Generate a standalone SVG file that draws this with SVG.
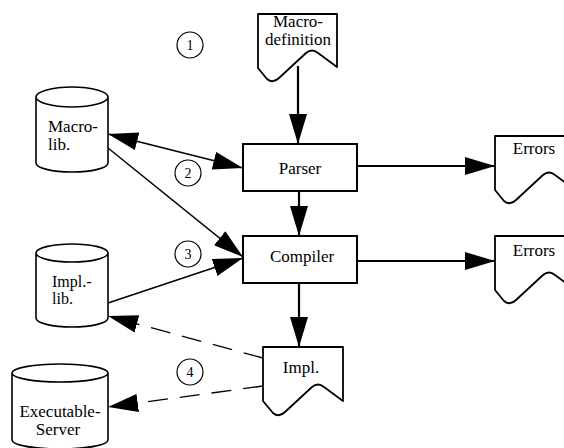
<svg xmlns="http://www.w3.org/2000/svg" width="564" height="448" viewBox="0 0 564 448" font-family="'Liberation Serif', 'DejaVu Serif', serif">
<style>
text{font-family:"Liberation Serif","DejaVu Serif",serif;font-size:17px;fill:#000}
.c{text-anchor:middle}
.sm{font-size:16px}
.num{font-size:14px;text-anchor:middle}
.box{fill:#fff;stroke:#000;stroke-width:2}
.doc{fill:#fff;stroke:#000;stroke-width:1.8;stroke-linejoin:round}
.cyl{fill:#fff;stroke:#000;stroke-width:1.6}
.circ{fill:none;stroke:#000;stroke-width:1.2}
.thick{stroke:#000;stroke-width:2.2;fill:none}
.thin{stroke:#000;stroke-width:1.5;fill:none}
.dash{stroke:#000;stroke-width:1.3;fill:none;stroke-dasharray:20 12}
</style>
<defs>
<marker id="ah" markerUnits="userSpaceOnUse" markerWidth="32" markerHeight="20" refX="30" refY="9" orient="auto-start-reverse">
<path d="M0,0 L30,9 L0,18 Z" fill="#000"/>
</marker>
</defs>

<g id="connectors">
<line class="thick" x1="298" y1="66" x2="298" y2="144" marker-end="url(#ah)"/>
<line class="thick" x1="299" y1="191" x2="299" y2="236" marker-end="url(#ah)"/>
<line class="thick" x1="357" y1="166" x2="495" y2="166" marker-end="url(#ah)"/>
<line class="thick" x1="357" y1="261" x2="495" y2="261" marker-end="url(#ah)"/>
<line class="thick" x1="299" y1="283" x2="299" y2="347" marker-end="url(#ah)"/>
<line class="thin" x1="108" y1="134" x2="243" y2="168" marker-start="url(#ah)" marker-end="url(#ah)"/>
<line class="thin" x1="108" y1="148" x2="243" y2="257" marker-end="url(#ah)"/>
<line class="thin" x1="108" y1="303" x2="243" y2="258" marker-end="url(#ah)"/>
<line class="dash" x1="263" y1="358" x2="108" y2="316" marker-end="url(#ah)"/>
<line class="dash" x1="263" y1="386" x2="108" y2="407" marker-end="url(#ah)"/>
</g>

<g id="macro-definition">
<path class="doc" d="M258,68 V14 H337 V67 L318,53 Q312,48 306,53 L279,78 Q273,84 267,79 Z"/>
<text class="c" x="298" y="27">Macro-</text>
<text class="c" x="298" y="45">definition</text>
</g>

<g id="parser">
<rect class="box" x="243" y="144" width="114" height="47"/>
<text class="c" x="300" y="174">Parser</text>
</g>

<g id="compiler">
<rect class="box" x="243" y="236" width="114" height="47"/>
<text class="c" x="302" y="262">Compiler</text>
</g>

<g id="errors1">
<path class="doc" d="M495,190 V136 H574 V189 L555,175 Q549,170 543,175 L516,200 Q510,206 504,201 Z"/>
<text class="c" x="534" y="154">Errors</text>
</g>

<g id="errors2">
<path class="doc" d="M495,290 V236 H574 V289 L555,275 Q549,270 543,275 L516,300 Q510,306 504,301 Z"/>
<text class="c" x="534" y="256">Errors</text>
</g>

<g id="impl">
<path class="doc" d="M263,401 V347 H343 V401 L324,387 Q318,382 312,387 L285,412 Q279,418 273,413 Z"/>
<text class="c" x="301" y="373">Impl.</text>
</g>

<g id="macro-lib">
<path class="cyl" d="M36,97 V163 A36,9 0 0 0 108,163 V97 A36,10 0 0 0 36,97 A36,10 0 0 0 108,97"/>
<text x="48" y="132">Macro-</text>
<text x="48" y="150">lib.</text>
</g>

<g id="impl-lib">
<path class="cyl" d="M36,253 V318 A36,9 0 0 0 108,318 V253 A36,9 0 0 0 36,253 A36,9 0 0 0 108,253"/>
<text class="sm" x="52" y="287">Impl.-</text>
<text class="sm" x="52" y="304">lib.</text>
</g>

<g id="executable-server">
<path class="cyl" d="M12,373 V440 A48,9 0 0 0 108,440 V373 A48,9 0 0 0 12,373 A48,9 0 0 0 108,373"/>
<text class="c" x="60" y="417">Executable-</text>
<text class="c" x="58" y="435">Server</text>
</g>

<g id="step-numbers">
<circle class="circ" cx="190" cy="45" r="13"/>
<text class="num" x="190" y="50">1</text>
<circle class="circ" cx="188" cy="173" r="13"/>
<text class="num" x="188" y="178">2</text>
<circle class="circ" cx="188" cy="254" r="13"/>
<text class="num" x="188" y="259">3</text>
<circle class="circ" cx="190" cy="372" r="13"/>
<text class="num" x="190" y="377">4</text>
</g>
</svg>
